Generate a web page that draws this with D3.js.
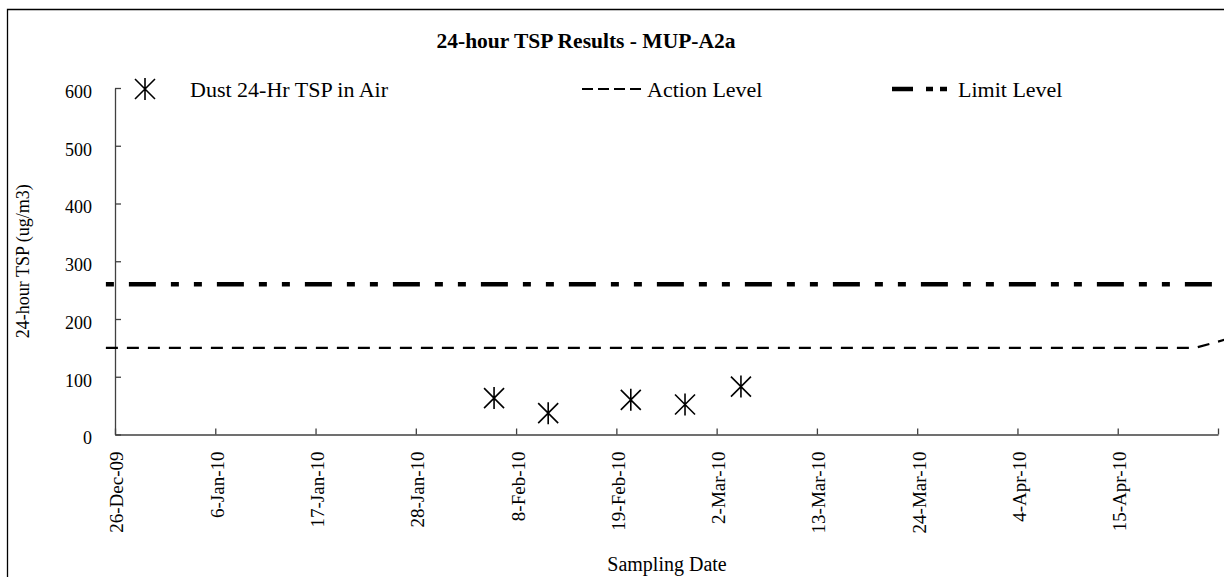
<!DOCTYPE html>
<html>
<head>
<meta charset="utf-8">
<script src="https://cdn.jsdelivr.net/npm/d3@7"></script>
<style>
  html, body { margin: 0; padding: 0; background: #fff; }
  svg { display: block; }
  text { font-family: "Liberation Serif", "Times New Roman", serif; fill: #000; }
</style>
</head>
<body>
<svg id="chart" width="1224" height="577"></svg>
<script>
// ---- data ----
const sampleDates = ["2010-02-05T14:00", "2010-02-11T12:30", "2010-02-20T14:00", "2010-02-26T12:45", "2010-03-04T16:00"];
const tspValues = [63, 37, 60, 52, 83];

const actionDates = ["2009-12-25T00:00", "2010-04-23T12:00", "2010-05-05T00:00"];
const actionValues = [150, 150, 200];

const limitDates = ["2009-12-25T00:00", "2010-05-05T00:00"];
const limitValues = [260, 260];

const xTickDates = ["2009-12-26", "2010-01-06", "2010-01-17", "2010-01-28", "2010-02-08", "2010-02-19",
                    "2010-03-02", "2010-03-13", "2010-03-24", "2010-04-04", "2010-04-15"];
const xTickLabels = ["26-Dec-09", "6-Jan-10", "17-Jan-10", "28-Jan-10", "8-Feb-10", "19-Feb-10",
                     "2-Mar-10", "13-Mar-10", "24-Mar-10", "4-Apr-10", "15-Apr-10"];
const xDomain = ["2009-12-26", "2010-04-26"];
const yTicks = [0, 100, 200, 300, 400, 500, 600];

const titleText = "24-hour TSP Results - MUP-A2a";
const xTitle = "Sampling Date";
const yTitle = "24-hour TSP (ug/m3)";
const legendLabels = ["Dust 24-Hr TSP in Air", "Action Level", "Limit Level"];

// ---- helpers ----
const parse = s => new Date(s + (s.length === 10 ? "T00:00:00Z" : ":00Z"));

const svg = d3.select("#chart");

// outer chart border (left and top visible)
svg.append("path")
  .attr("d", "M7.5,600 L7.5,9.5 L1300,9.5")
  .attr("fill", "none").attr("stroke", "#000").attr("stroke-width", 1.3);

const x = d3.scaleUtc().domain(xDomain.map(parse)).range([115, 1218]);
const y = d3.scaleLinear().domain([0, 600]).range([434.5, 88]);

// ---- axes ----
const axisColor = "#404040";
const labelMap = new Map(xTickDates.map((d, i) => [+parse(d), xTickLabels[i]]));
const xTickValues = xTickDates.map(parse).concat([parse(xDomain[1])]);

const gx = svg.append("g").attr("transform", `translate(0,${y(0)})`)
  .call(d3.axisBottom(x).tickValues(xTickValues).tickSize(-6).tickSizeOuter(0)
        .tickFormat(d => labelMap.get(+d) || ""));
gx.select(".domain").attr("stroke", axisColor).attr("stroke-width", 1.3);
gx.selectAll(".tick line").attr("stroke", axisColor).attr("stroke-width", 1.3);
gx.selectAll(".tick text")
  .attr("transform", "rotate(-90)")
  .attr("text-anchor", "end")
  .attr("x", -17).attr("y", 0).attr("dy", "0.42em")
  .style("font-size", "19px").style("font-family", "'Liberation Serif', serif").attr("fill", "#000");

const gy = svg.append("g").attr("transform", `translate(${x.range()[0]},0)`)
  .call(d3.axisLeft(y).tickValues(yTicks).tickSize(-6).tickSizeOuter(0).tickPadding(23));
gy.select(".domain").attr("stroke", axisColor).attr("stroke-width", 1.3);
gy.selectAll(".tick line").attr("stroke", axisColor).attr("stroke-width", 1.3);
gy.selectAll(".tick text")
  .attr("dy", "0.52em")
  .style("font-size", "18px").style("font-family", "'Liberation Serif', serif").attr("fill", "#000");

// ---- lines ----
const line = d3.line().x(d => x(d[0])).y(d => y(d[1]));
const limitDash = "27,15,8,15,8,15";

svg.append("path")
  .datum(actionDates.map((d, i) => [parse(d), actionValues[i]]))
  .attr("d", line).attr("fill", "none").attr("stroke", "#000")
  .attr("stroke-width", 2.2).attr("stroke-dasharray", "12,9");

svg.append("path")
  .datum(limitDates.map((d, i) => [parse(d), limitValues[i]]))
  .attr("d", line).attr("fill", "none").attr("stroke", "#000")
  .attr("stroke-width", 4.5).attr("stroke-dasharray", limitDash).attr("stroke-dashoffset", 65);

// ---- markers ----
const star = "M0,-11L0,11M-10,-10L10,10M-10,10L10,-10";
svg.append("g").selectAll("path")
  .data(sampleDates.map((d, i) => [parse(d), tspValues[i]]))
  .join("path")
  .attr("transform", d => `translate(${x(d[0])},${y(d[1])})`)
  .attr("d", star).attr("fill", "none").attr("stroke", "#000").attr("stroke-width", 1.6);

// ---- title ----
svg.append("text").attr("x", 586).attr("y", 48).attr("text-anchor", "middle")
  .style("font-size", "21.5px").style("font-weight", "bold").text(titleText);

// ---- axis titles ----
svg.append("text").attr("x", 667).attr("y", 571).attr("text-anchor", "middle")
  .style("font-size", "20px").text(xTitle);
svg.append("text").attr("transform", `translate(29,${(y(0) + y(600)) / 2}) rotate(-90)`)
  .attr("text-anchor", "middle").style("font-size", "18px").text(yTitle);

// ---- legend ----
const lg = svg.append("g");
lg.append("path").attr("transform", "translate(145,89)").attr("d", star)
  .attr("fill", "none").attr("stroke", "#000").attr("stroke-width", 1.6);
lg.append("text").attr("x", 190).attr("y", 97).style("font-size", "22px").text(legendLabels[0]);

lg.append("line").attr("x1", 582).attr("x2", 642).attr("y1", 89).attr("y2", 89)
  .attr("stroke", "#000").attr("stroke-width", 2).attr("stroke-dasharray", "11,5");
lg.append("text").attr("x", 647).attr("y", 97).style("font-size", "22px").text(legendLabels[1]);

lg.append("line").attr("x1", 892).attr("x2", 947).attr("y1", 89).attr("y2", 89)
  .attr("stroke", "#000").attr("stroke-width", 4.5).attr("stroke-dasharray", "21,13,7,7,7,20");
lg.append("text").attr("x", 958).attr("y", 97).style("font-size", "22px").text(legendLabels[2]);
</script>
</body>
</html>
